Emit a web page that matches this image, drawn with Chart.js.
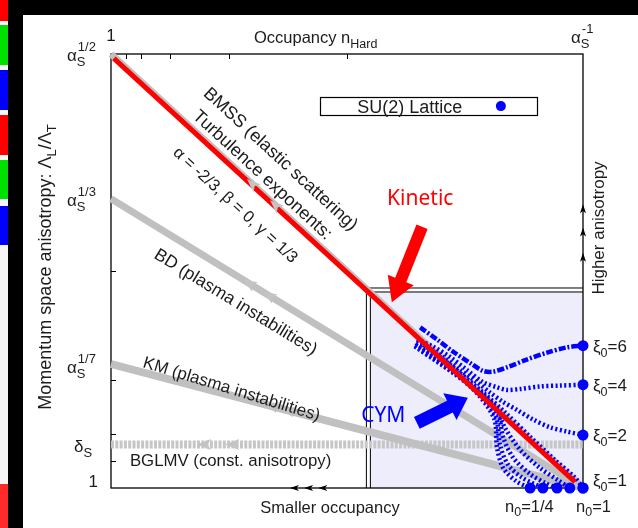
<!DOCTYPE html>
<html>
<head>
<meta charset="utf-8">
<script src="https://cdn.jsdelivr.net/npm/chart.js@4"></script>
<style>
  body { margin: 0; width: 638px; height: 528px; position: relative; overflow: hidden; background: #fff; }
  .stripe { position: absolute; left: 0; width: 8px; }
  #frameTop { position: absolute; left: 8px; top: 0; width: 630px; height: 15px; background: #000; }
  #frameLeft { position: absolute; left: 8px; top: 0; width: 15px; height: 528px; background: #000; }
  #chart { position: absolute; left: 0; top: 0; }
</style>
</head>
<body>
<div class="stripe" style="top:0;height:528px;background:#f6f6f6"></div>
<div class="stripe" style="top:0;height:21px;background:#ff0000"></div>
<div class="stripe" style="top:25px;height:40px;background:#00e000"></div>
<div class="stripe" style="top:70px;height:40px;background:#0000ff"></div>
<div class="stripe" style="top:115px;height:40px;background:#ff0000"></div>
<div class="stripe" style="top:160px;height:39px;background:#00e000"></div>
<div class="stripe" style="top:206px;height:39px;background:#0000ff"></div>
<div class="stripe" style="top:484px;height:44px;background:#ff2a2a"></div>
<div id="frameTop"></div>
<div id="frameLeft"></div>
<canvas id="chart" width="638" height="528"></canvas>

<script>
// x = q : occupancy n_Hard ~ alpha_s^-q  (0 -> 1, 1 -> alpha_s^-1)
// y = p : anisotropy Lambda_L/Lambda_T ~ alpha_s^p  (0 -> 1, 1/2 -> alpha_s^1/2)
const occTicks = [1/32, 1/16, 1/8, 1/4, 1/2];
const anisoTicks = [1/32, 1/16, 1/8, 1/4];
const deltaS = 0.05;

// theory lines
const bmssQ = [0, 1],         bmssP = [0.5, 0];
const kineticQ = [0.006, 0.983], kineticP = [0.495, 0.007];
const bdQ = [0, 1],           bdP = [1/3, 0];
const kmQ = [0, 1],           kmP = [1/7, 0];
const bglmvQ = [0, 1],        bglmvP = [deltaS, deltaS];

// SU(2) lattice trajectories
const xi6Q = [0.655, 0.691, 0.725, 0.761, 0.788, 0.809, 0.839, 0.881, 0.924, 0.966, 1.0];
const xi6P = [0.185, 0.171, 0.157, 0.144, 0.135, 0.134, 0.139, 0.148, 0.156, 0.162, 0.164];
const xi4Q = [0.648, 0.682, 0.718, 0.754, 0.788, 0.818, 0.839, 0.867, 0.909, 0.951, 1.0];
const xi4P = [0.171, 0.163, 0.151, 0.136, 0.122, 0.116, 0.113, 0.114, 0.117, 0.118, 0.119];
const xi2Q = [0.661, 0.703, 0.739, 0.775, 0.803, 0.831, 0.860, 0.894, 0.930, 0.966, 1.0];
const xi2P = [0.165, 0.151, 0.136, 0.122, 0.110, 0.099, 0.090, 0.079, 0.070, 0.065, 0.061];
const n1Q = [0.650, 0.718, 0.782, 0.835, 0.888, 0.941, 0.983, 1.0];
const n1P = [0.171, 0.142, 0.113, 0.087, 0.059, 0.032, 0.012, 0];
const n34Q = [0.646, 0.739, 0.814, 0.835, 0.867, 0.909, 0.947, 0.972];
const n34P = [0.167, 0.130, 0.094, 0.069, 0.044, 0.023, 0.009, 0];
const n12Q = [0.646, 0.761, 0.818, 0.831, 0.852, 0.888, 0.919, 0.943];
const n12P = [0.165, 0.119, 0.088, 0.058, 0.035, 0.016, 0.006, 0];
const n38Q = [0.644, 0.761, 0.814, 0.824, 0.841, 0.871, 0.915];
const n38P = [0.164, 0.118, 0.084, 0.050, 0.027, 0.012, 0];
const n14Q = [0.644, 0.761, 0.811, 0.818, 0.831, 0.858, 0.888];
const n14P = [0.163, 0.117, 0.081, 0.046, 0.023, 0.008, 0];

// end points
const rightDotsP = [0.164, 0.119, 0.061, 0];
const rightLabels = ["6", "4", "2", "1"];
const bottomDotsQ = [0.888, 0.915, 0.945, 0.972, 1.0];

const FONT = '"Liberation Sans", Arial, Helvetica, sans-serif';
const INK = "#1c1c1c";
const GRAY = "#c0c0c0";
const BLUE = "#0000ff";

function pts(qs, ps) {
  return qs.map((q, i) => ({ x: q, y: ps[i] }));
}

function lineSet(label, qs, ps, color, width, order, extra) {
  return Object.assign({
    label, data: pts(qs, ps), showLine: true, pointRadius: 0,
    borderColor: color, borderWidth: width, order, clip: false,
  }, extra || {});
}

function txt(ctx, s, size, x, y, align) {
  ctx.font = size + "px " + FONT;
  ctx.textAlign = align || "left";
  ctx.fillText(s, x, y);
}

// base glyph with subscript + superscript stacked (alpha_S^1/2 etc.)
function subSup(ctx, x, y, base, sub, sup) {
  ctx.textAlign = "left";
  ctx.font = "17px " + FONT;
  ctx.fillText(base, x, y);
  const w = ctx.measureText(base).width;
  ctx.font = "13px " + FONT;
  if (sub) ctx.fillText(sub, x + w, y + 5);
  if (sup) ctx.fillText(sup, x + w + 1, y - 10);
}

// run of [text, size, dy] pieces
function rich(ctx, parts, x, y, align) {
  let w = 0;
  parts.forEach(([t, s]) => { ctx.font = s + "px " + FONT; w += ctx.measureText(t).width; });
  let cx = align === "center" ? x - w / 2 : align === "right" ? x - w : x;
  ctx.textAlign = "left";
  parts.forEach(([t, s, dy]) => {
    ctx.font = s + "px " + FONT;
    ctx.fillText(t, cx, y + (dy || 0));
    cx += ctx.measureText(t).width;
  });
}

function fatArrow(ctx, x1, y1, x2, y2, shaft, head, headLen, color) {
  const ang = Math.atan2(y2 - y1, x2 - x1), L = Math.hypot(x2 - x1, y2 - y1);
  ctx.save();
  ctx.translate(x1, y1); ctx.rotate(ang);
  ctx.beginPath();
  ctx.moveTo(0, -shaft / 2); ctx.lineTo(L - headLen, -shaft / 2); ctx.lineTo(L - headLen, -head / 2);
  ctx.lineTo(L, 0); ctx.lineTo(L - headLen, head / 2); ctx.lineTo(L - headLen, shaft / 2);
  ctx.lineTo(0, shaft / 2); ctx.closePath();
  ctx.fillStyle = color; ctx.fill();
  ctx.restore();
}

function headAt(ctx, x, y, ang, len, width, color) {
  ctx.save();
  ctx.translate(x, y); ctx.rotate(ang);
  ctx.beginPath();
  ctx.moveTo(0, 0); ctx.lineTo(-len, -width / 2); ctx.lineTo(-len * 0.75, 0); ctx.lineTo(-len, width / 2);
  ctx.closePath();
  ctx.fillStyle = color; ctx.fill();
  ctx.restore();
}

const sketch = {
  id: "sketch",
  beforeDatasetsDraw(chart) {
    const { ctx, chartArea: a, scales: { x, y } } = chart;
    ctx.save();
    // shaded lattice window with double border
    const bx = x.getPixelForValue(0.540), by = y.getPixelForValue(0.231);
    ctx.fillStyle = "#ededfb";
    ctx.fillRect(bx + 4, by + 4, a.right - bx - 4, a.bottom - by - 4);
    ctx.strokeStyle = "#000"; ctx.lineWidth = 1;
    ctx.beginPath();
    ctx.moveTo(bx + 0.5, a.bottom); ctx.lineTo(bx + 0.5, by + 0.5); ctx.lineTo(a.right, by + 0.5);
    ctx.moveTo(bx + 4.5, a.bottom); ctx.lineTo(bx + 4.5, by + 4.5); ctx.lineTo(a.right, by + 4.5);
    ctx.stroke();
    // frame
    ctx.lineWidth = 1.3;
    ctx.strokeRect(a.left, a.top, a.right - a.left, a.bottom - a.top);
    ctx.lineWidth = 1;
    ctx.beginPath();
    occTicks.forEach(q => { const px = Math.round(x.getPixelForValue(q)) + 0.5; ctx.moveTo(px, a.top); ctx.lineTo(px, a.top + 5); });
    anisoTicks.forEach(p => { const py = Math.round(y.getPixelForValue(p)) + 0.5; ctx.moveTo(a.left, py); ctx.lineTo(a.left + 5, py); });
    ctx.stroke();
    ctx.restore();
  },
  afterDatasetsDraw(chart) {
    const { ctx, chartArea: a, scales: { x, y } } = chart;
    const X = q => x.getPixelForValue(q), Y = p => y.getPixelForValue(p);
    ctx.save();

    // gray arrowheads along the theory lines (pointing to smaller occupancy)
    const grayHeads = [[bmssQ, bmssP, [0.288, 0.337]], [bdQ, bdP, [0.280, 0.322]], [kmQ, kmP, [0.325, 0.36]], [bglmvQ, bglmvP, [0.182, 0.242]]];
    grayHeads.forEach(([qs, ps, at]) => {
      const ang = Math.atan2(Y(ps[0]) - Y(ps[1]), X(qs[0]) - X(qs[1]));
      at.forEach(q => {
        const t = (q - qs[0]) / (qs[1] - qs[0]);
        const p = ps[0] + t * (ps[1] - ps[0]);
        headAt(ctx, X(q), Y(p), ang, 14, 11, "#c4c4c4");
      });
    });

    // black arrows on right axis (higher anisotropy) and bottom axis (smaller occupancy)
    [0.327, 0.300, 0.271].forEach(p => headAt(ctx, a.right, Y(p), -Math.PI / 2, 9, 6, "#000"));
    [0.379, 0.409, 0.439].forEach(q => headAt(ctx, X(q), a.bottom, Math.PI, 9, 6, "#000"));

    // Kinetic / CYM arrows
    fatArrow(ctx, X(0.659), Y(0.301), X(0.595), Y(0.214), 12, 28, 24, "#ff0000");
    fatArrow(ctx, X(0.648), Y(0.075), X(0.756), Y(0.104), 13, 30, 20, BLUE);
    ctx.textAlign = "left";
    ctx.font = "21px 'Noto Sans', 'Open Sans', sans-serif";
    ctx.fillStyle = "#ff0000"; ctx.fillText("Kinetic", X(0.585), Y(0.326));
    ctx.fillStyle = BLUE; ctx.fillText("CYM", X(0.530), Y(0.076));

    ctx.fillStyle = INK;
    // y-axis labels
    subSup(ctx, 67, Y(0.5) + 7, "\u03b1", "S", "1/2");
    subSup(ctx, 67, Y(1/3) + 7, "\u03b1", "S", "1/3");
    subSup(ctx, 67, Y(1/7) + 9, "\u03b1", "S", "1/7");
    subSup(ctx, 74, Y(deltaS) + 7, "\u03b4", "S", "");
    txt(ctx, "1", 17, 98, Y(0) - 1, "right");
    // top labels
    txt(ctx, "1", 17, X(0), 41, "center");
    rich(ctx, [["Occupancy n", 16.5, 0], ["Hard", 12.5, 5]], 254, 43, "left");
    subSup(ctx, 571, 43, "\u03b1", "S", "-1");
    // bottom labels
    txt(ctx, "Smaller occupancy", 16.5, 330, 513, "center");
    rich(ctx, [["n", 16.5, 0], ["0", 12.5, 4], ["=1/4", 16.5, 0]], 505, 512, "left");
    rich(ctx, [["n", 16.5, 0], ["0", 12.5, 4], ["=1", 16.5, 0]], 576, 512, "left");
    // xi0 labels
    rightDotsP.forEach((p, i) => {
      const yy = Y(p) + (p === 0 ? -2 : 6);
      rich(ctx, [["\u03be", 17, 0], ["0", 12.5, 5], ["=" + rightLabels[i], 17, 0]], 593, yy, "left");
    });

    // vertical titles
    ctx.save();
    ctx.translate(45, 267); ctx.rotate(-Math.PI / 2);
    rich(ctx, [["Momentum space anisotropy: \u039b", 18, 0], ["L", 13, 5], ["/\u039b", 18, 0], ["T", 13, 5]], 0, 6, "center");
    ctx.restore();
    ctx.save();
    ctx.translate(604, 228); ctx.rotate(-Math.PI / 2);
    txt(ctx, "Higher anisotropy", 17, 0, 0, "center");
    ctx.restore();

    // slanted annotations
    const slant = (s, q, p, qs, ps, size) => {
      const ang = Math.atan2(Y(ps[1]) - Y(ps[0]), X(qs[1]) - X(qs[0]));
      ctx.save();
      ctx.translate(X(q), Y(p)); ctx.rotate(ang);
      ctx.textBaseline = "top";
      txt(ctx, s, size, 0, 0, "left");
      ctx.restore();
    };
    slant("BMSS (elastic scattering)", 0.214, 0.465, bmssQ, bmssP, 18);
    slant("Turbulence exponents:", 0.191, 0.439, bmssQ, bmssP, 18);
    slant("\u03b1 = -2/3, \u03b2 = 0, \u03b3 = 1/3", 0.148, 0.396, bmssQ, bmssP, 16.5);
    slant("BD (plasma instabilities)", 0.104, 0.279, bdQ, bdP, 17.5);
    slant("KM (plasma instabilities)", 0.074, 0.154, kmQ, [kmP[0] + 0.024, kmP[1]], 17);
    ctx.textBaseline = "top";
    txt(ctx, "BGLMV (const. anisotropy)", 16.8, X(0.040), Y(0.040), "left");
    ctx.textBaseline = "alphabetic";

    // SU(2) lattice key
    const lx0 = X(0.4428), lx1 = X(0.9025), ly0 = Y(0.4503), ly1 = Y(0.4296);
    ctx.fillStyle = "#fff";
    ctx.fillRect(lx0, ly0, lx1 - lx0, ly1 - ly0);
    ctx.strokeStyle = "#000"; ctx.lineWidth = 1.2;
    ctx.strokeRect(Math.round(lx0) + 0.5, Math.round(ly0) + 0.5, Math.round(lx1 - lx0), Math.round(ly1 - ly0));
    ctx.fillStyle = INK;
    txt(ctx, "SU(2) Lattice", 18, X(0.633), (ly0 + ly1) / 2 + 6.5, "center");
    ctx.fillStyle = BLUE;
    ctx.beginPath(); ctx.arc(X(0.826), (ly0 + ly1) / 2, 5, 0, 2 * Math.PI); ctx.fill();

    ctx.restore();
  },
};

const dotted = { borderDash: [2, 2.5], tension: 0.3 };

new Chart(document.getElementById("chart"), {
  type: "scatter",
  data: {
    datasets: [
      {
        label: "end points",
        data: rightDotsP.map(p => ({ x: 1, y: p })).concat(bottomDotsQ.map(q => ({ x: q, y: 0 }))),
        pointRadius: 5.5, pointBackgroundColor: BLUE, pointBorderWidth: 0, order: 0, clip: false,
      },
      lineSet("Kinetic", kineticQ, kineticP, "#ff0000", 5, 1),
      lineSet("xi0=6", xi6Q, xi6P, BLUE, 4.5, 2, { borderDash: [7, 2, 2, 2], tension: 0.3 }),
      lineSet("xi0=4", xi4Q, xi4P, BLUE, 4.5, 2, dotted),
      lineSet("xi0=2", xi2Q, xi2P, BLUE, 4.5, 2, dotted),
      lineSet("n0=1", n1Q, n1P, BLUE, 4.5, 2, dotted),
      lineSet("n0=3/4", n34Q, n34P, BLUE, 4.5, 2, dotted),
      lineSet("n0=1/2", n12Q, n12P, BLUE, 4.5, 2, dotted),
      lineSet("n0=3/8", n38Q, n38P, BLUE, 4.5, 2, dotted),
      lineSet("n0=1/4", n14Q, n14P, BLUE, 4.5, 2, dotted),
      lineSet("BMSS", bmssQ, bmssP, GRAY, 7, 3),
      lineSet("BD", bdQ, bdP, GRAY, 7, 3),
      lineSet("KM", kmQ, kmP, GRAY, 8, 3),
      lineSet("BGLMV", bglmvQ, bglmvP, "#c6c6c6", 8, 3, { borderDash: [3, 1.3] }),
    ],
  },
  options: {
    responsive: false,
    animation: false,
    layout: { padding: { left: 111, right: 55, top: 54, bottom: 40 } },
    plugins: { legend: { display: false }, tooltip: { enabled: false } },
    scales: {
      x: { type: "linear", min: 0, max: 1, display: false },
      y: { type: "linear", min: 0, max: 0.5, display: false },
    },
  },
  plugins: [sketch],
});
</script>
</body>
</html>
